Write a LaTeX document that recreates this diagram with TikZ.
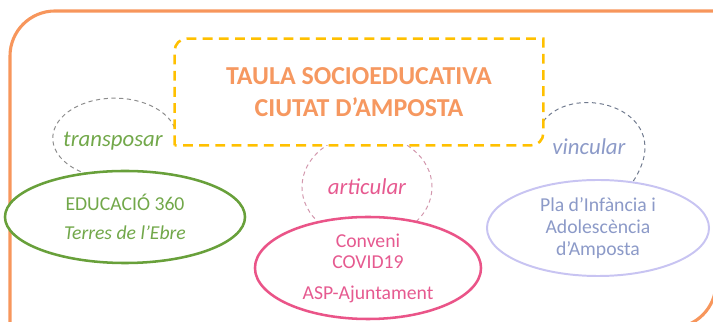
\documentclass[tikz,border=0pt]{standalone}
\usepackage{fontspec}
\setmainfont{Carlito}
\usetikzlibrary{shapes.geometric,backgrounds}
\definecolor{frameorange}{RGB}{247,150,92}
\definecolor{titleorange}{RGB}{246,152,96}
\definecolor{gold}{RGB}{255,192,0}
\definecolor{greenline}{RGB}{104,160,58}
\definecolor{greentext}{RGB}{114,168,74}
\definecolor{pinkline}{RGB}{234,84,136}
\definecolor{pinktext}{RGB}{230,90,144}
\definecolor{lavline}{RGB}{200,196,242}
\definecolor{lavtext}{RGB}{140,154,200}
\definecolor{ringgray}{RGB}{140,140,140}
\definecolor{ringpink}{RGB}{210,150,172}
\definecolor{ringblue}{RGB}{112,122,142}
\tikzset{
  taulabox/.style={minimum width=9.2cm, minimum height=2.65cm, fill=white, align=center,
    text=titleorange, font=\fontsize{18.4}{22.7}\selectfont\bfseries},
  bubble/.style={ellipse, fill=white, line width=1.8pt, align=center, inner sep=0pt,
    font=\fontsize{14}{15.5}\selectfont},
  verb/.style={font=\fontsize{16.2}{18}\selectfont\itshape},
  ring/.style={line width=0.7pt, dash pattern=on 3pt off 2.5pt},
}

\begin{document}
\begin{tikzpicture}[x=0.025cm,y=0.025cm]
        \useasboundingbox (0,0) rectangle (713,322);
        \clip (0,0) rectangle (713,322);
        % frame
        \draw[frameorange, line width=2.2pt] (10,-20) -- (10,266)
            arc[start angle=180, end angle=90, radius=1.125cm] -- (716,311) -- (716,39)
            arc[start angle=0, end angle=-90, radius=1.125cm] -- (10,-6);

        % taula
        \node[taulabox] (taula) at (359,230) {TAULA SOCIOEDUCATIVA\\CIUTAT D’AMPOSTA};
        \draw[gold, line width=1.8pt, dash pattern=on 7pt off 4.5pt] (taula.south west)
            -- ([yshift=-0.3cm]taula.north west) arc[start angle=180, end angle=90, radius=0.3cm]
            -- (taula.north east) -- ([yshift=0.3cm]taula.south east)
            arc[start angle=0, end angle=-90, radius=0.3cm] -- cycle;

        % ellipses
        \node[bubble, draw=greenline, text=greentext, minimum width=6cm, minimum height=2.3cm]
            (educ) at (125,105) {EDUCACIÓ 360\\[5pt]\textit{Terres de l’Ebre}};
        \node[bubble, draw=pinkline, text=pinktext, minimum width=5.65cm, minimum height=2.55cm]
            (conv) at (368,54) {Conveni\\COVID19\\[6pt]ASP-Ajuntament};
        \node[bubble, draw=lavline, text=lavtext, line width=1.4pt, minimum width=5.55cm, minimum height=2.4cm]
            (pla) at (598,94) {Pla d’Infància i\\Adolescència\\d’Amposta};

        % verbs
        \node[verb, text=greentext] (transp) at (113,181) {transposar};
        \node[verb, text=pinktext] (artic) at (367,135) {articular};
        \node[verb, text=lavtext] (vinc) at (589,175) {vincular};

        % rings
        \begin{scope}[on background layer]
        \draw[ring, ringgray] (taula.191) arc[start angle=15, end angle=245, x radius=1.55cm, y radius=1cm];
        \draw[ring, ringpink] (artic.center) ellipse[x radius=1.625cm, y radius=1.325cm];
        \draw[ring, ringblue] (taula.351) .. controls (575,242) and (680,212) .. (pla.53);
        \end{scope}
\end{tikzpicture}
\end{document}
